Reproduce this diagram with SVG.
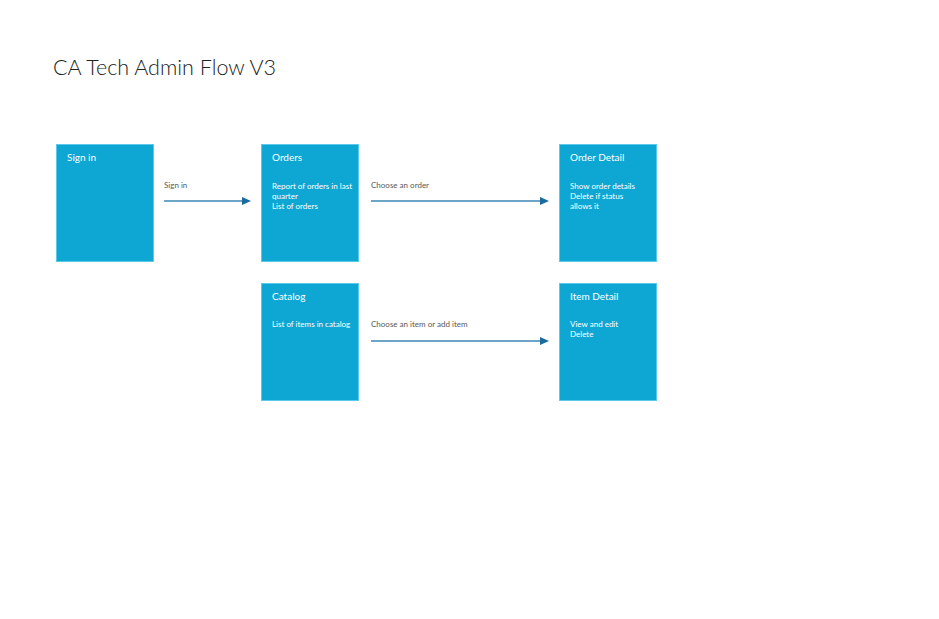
<svg xmlns="http://www.w3.org/2000/svg" width="939" height="619" viewBox="0 0 939 619">
<style>
.box{fill:#0ea6d3;stroke:#5cc8ea;stroke-width:1}
.ttl{font-family:"Source Sans Pro","Lato","Open Sans",sans-serif;font-size:10px;fill:#ffffff}
.body{font-family:"Source Sans Pro","Lato","Open Sans",sans-serif;font-size:8px;fill:#ffffff}
.lbl{font-family:"Source Sans Pro","Lato","Open Sans",sans-serif;font-size:8px;fill:#595959}
.edge{stroke:#3e86b4;stroke-width:1.5;fill:none}
.head{fill:#1c6b9e}
</style>
<rect width="939" height="619" fill="#ffffff"/>
<text x="53" y="75" font-family="Lato, 'Open Sans', sans-serif" font-weight="300" font-size="22" fill="#222222" textLength="223" lengthAdjust="spacingAndGlyphs">CA Tech Admin Flow V3</text>
<g id="connectors">
<g id="e1"><line class="edge" x1="164" y1="201" x2="243" y2="201"/><polygon class="head" points="242,197 251,201 242,205"/><text class="lbl" x="164" y="188">Sign in</text></g>
<g id="e2"><line class="edge" x1="371" y1="201" x2="541" y2="201"/><polygon class="head" points="540,197 549,201 540,205"/><text class="lbl" x="371" y="188">Choose an order</text></g>
<g id="e3"><line class="edge" x1="371" y1="341" x2="541" y2="341"/><polygon class="head" points="540,337 549,341 540,345"/><text class="lbl" x="371" y="327">Choose an item or add item</text></g>
</g>
<g id="signin"><rect class="box" x="56.5" y="144.5" width="97" height="117"/><text class="ttl" x="67" y="161">Sign in</text></g>
<g id="orders"><rect class="box" x="261.5" y="144.5" width="97" height="117"/><text class="ttl" x="272" y="161">Orders</text>
<text class="body" x="272" y="189">Report of orders in last</text><text class="body" x="272" y="199">quarter</text><text class="body" x="272" y="209">List of orders</text></g>
<g id="orderdetail"><rect class="box" x="559.5" y="144.5" width="97" height="117"/><text class="ttl" x="570" y="161">Order Detail</text>
<text class="body" x="570" y="189">Show order details</text><text class="body" x="570" y="199">Delete if status</text><text class="body" x="570" y="209">allows it</text></g>
<g id="catalog"><rect class="box" x="261.5" y="283.5" width="97" height="117"/><text class="ttl" x="272" y="300">Catalog</text>
<text class="body" x="272" y="327">List of items in catalog</text></g>
<g id="itemdetail"><rect class="box" x="559.5" y="283.5" width="97" height="117"/><text class="ttl" x="570" y="300">Item Detail</text>
<text class="body" x="570" y="327">View and edit</text><text class="body" x="570" y="337">Delete</text></g>
</svg>
